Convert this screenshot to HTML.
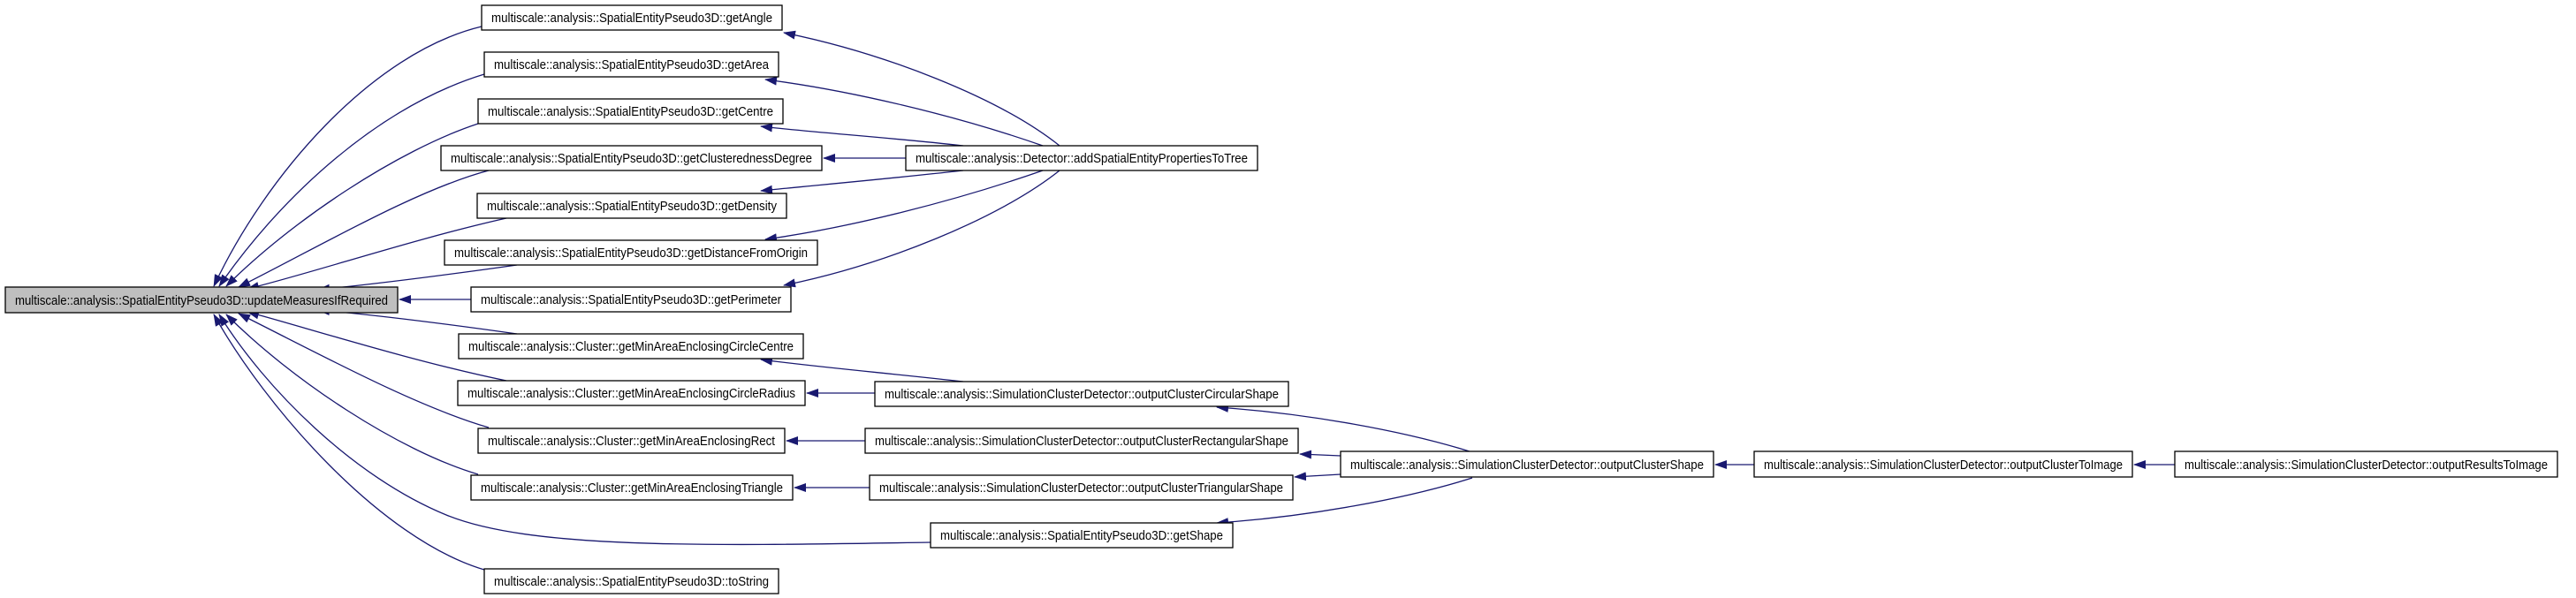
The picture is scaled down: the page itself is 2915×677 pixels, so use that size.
<!DOCTYPE html>
<html><head><meta charset="utf-8"><style>
html,body{margin:0;padding:0;background:#fff;}
svg{display:block;}
text{font-family:"Liberation Sans",Arial,sans-serif;font-size:15px;fill:#000;}
.e{fill:none;stroke:#191970;stroke-width:1.3;}
.b{fill:#fff;stroke:#000;stroke-width:1.3;}
</style></head><body>
<svg width="2915" height="677" viewBox="0 0 2915 677" xmlns="http://www.w3.org/2000/svg">
<defs>
<marker id="a" markerWidth="14" markerHeight="10" refX="13" refY="5" orient="auto" markerUnits="userSpaceOnUse">
<polygon points="0,0 14,5 0,10" fill="#191970"/>
</marker>
</defs>
<g>
<path class="e" d="M545,30 C420,60 300,200 242,324" marker-end="url(#a)"/>
<path class="e" d="M548,84 C430,120 320,220 248,324" marker-end="url(#a)"/>
<path class="e" d="M541,140 C450,170 330,250 256,324" marker-end="url(#a)"/>
<path class="e" d="M553,193 C470,215 360,280 270,325" marker-end="url(#a)"/>
<path class="e" d="M573,247 C470,270 350,310 280,327" marker-end="url(#a)"/>
<path class="e" d="M585,300 C500,312 420,322 360,328" marker-end="url(#a)"/>
<path class="e" d="M533,339 L452,339" marker-end="url(#a)"/>
<path class="e" d="M585,378 C500,366 420,356 360,351" marker-end="url(#a)"/>
<path class="e" d="M573,431 C470,410 350,372 280,353" marker-end="url(#a)"/>
<path class="e" d="M553,484 C470,460 360,400 270,355" marker-end="url(#a)"/>
<path class="e" d="M541,537 C450,510 330,430 256,356" marker-end="url(#a)"/>
<path class="e" d="M1053,614 C800,618 600,622 505,583 C400,540 300,440 248,356" marker-end="url(#a)"/>
<path class="e" d="M548,645 C430,610 300,460 242,356" marker-end="url(#a)"/>
<path class="e" d="M1199,165 C1130,110 1000,60 887,37" marker-end="url(#a)"/>
<path class="e" d="M1180,165 C1080,130 960,102 866,90" marker-end="url(#a)"/>
<path class="e" d="M1090,165 C1000,155 920,150 861,143" marker-end="url(#a)"/>
<path class="e" d="M1025,179 L932,179" marker-end="url(#a)"/>
<path class="e" d="M1090,193 C1000,203 920,210 861,216" marker-end="url(#a)"/>
<path class="e" d="M1180,193 C1080,228 960,258 866,271" marker-end="url(#a)"/>
<path class="e" d="M1199,193 C1130,248 1000,300 887,323" marker-end="url(#a)"/>
<path class="e" d="M1090,432 C1000,422 920,415 861,407" marker-end="url(#a)"/>
<path class="e" d="M990,445 L913,445" marker-end="url(#a)"/>
<path class="e" d="M979,499 L890,499" marker-end="url(#a)"/>
<path class="e" d="M984,552 L899,552" marker-end="url(#a)"/>
<path class="e" d="M1666,512 C1590,488 1480,468 1377,461" marker-end="url(#a)"/>
<path class="e" d="M1517,516 L1471,514" marker-end="url(#a)"/>
<path class="e" d="M1517,537 L1465,540" marker-end="url(#a)"/>
<path class="e" d="M1666,541 C1590,565 1480,585 1377,592" marker-end="url(#a)"/>
<path class="e" d="M1985,526 L1941,526" marker-end="url(#a)"/>
<path class="e" d="M2461,526 L2415,526" marker-end="url(#a)"/>
</g>
<rect x="6" y="325" width="444" height="29" fill="#bfbfbf" stroke="#000" stroke-width="1.3"/>
<text x="17" y="345" textLength="422" lengthAdjust="spacingAndGlyphs">multiscale::analysis::SpatialEntityPseudo3D::updateMeasuresIfRequired</text>

<rect class="b" x="545" y="6" width="340" height="28"/>
<text x="556" y="25" textLength="318" lengthAdjust="spacingAndGlyphs">multiscale::analysis::SpatialEntityPseudo3D::getAngle</text>
<rect class="b" x="548" y="59" width="333" height="28"/>
<text x="559" y="78" textLength="311" lengthAdjust="spacingAndGlyphs">multiscale::analysis::SpatialEntityPseudo3D::getArea</text>
<rect class="b" x="541" y="112" width="345" height="28"/>
<text x="552" y="131" textLength="323" lengthAdjust="spacingAndGlyphs">multiscale::analysis::SpatialEntityPseudo3D::getCentre</text>
<rect class="b" x="499" y="165" width="431" height="28"/>
<text x="510" y="184" textLength="409" lengthAdjust="spacingAndGlyphs">multiscale::analysis::SpatialEntityPseudo3D::getClusterednessDegree</text>
<rect class="b" x="540" y="219" width="350" height="28"/>
<text x="551" y="238" textLength="328" lengthAdjust="spacingAndGlyphs">multiscale::analysis::SpatialEntityPseudo3D::getDensity</text>
<rect class="b" x="503" y="272" width="422" height="28"/>
<text x="514" y="291" textLength="400" lengthAdjust="spacingAndGlyphs">multiscale::analysis::SpatialEntityPseudo3D::getDistanceFromOrigin</text>
<rect class="b" x="533" y="325" width="362" height="28"/>
<text x="544" y="344" textLength="340" lengthAdjust="spacingAndGlyphs">multiscale::analysis::SpatialEntityPseudo3D::getPerimeter</text>
<rect class="b" x="519" y="378" width="390" height="28"/>
<text x="530" y="397" textLength="368" lengthAdjust="spacingAndGlyphs">multiscale::analysis::Cluster::getMinAreaEnclosingCircleCentre</text>
<rect class="b" x="518" y="431" width="393" height="28"/>
<text x="529" y="450" textLength="371" lengthAdjust="spacingAndGlyphs">multiscale::analysis::Cluster::getMinAreaEnclosingCircleRadius</text>
<rect class="b" x="541" y="485" width="347" height="28"/>
<text x="552" y="504" textLength="325" lengthAdjust="spacingAndGlyphs">multiscale::analysis::Cluster::getMinAreaEnclosingRect</text>
<rect class="b" x="533" y="538" width="364" height="28"/>
<text x="544" y="557" textLength="342" lengthAdjust="spacingAndGlyphs">multiscale::analysis::Cluster::getMinAreaEnclosingTriangle</text>
<rect class="b" x="548" y="644" width="333" height="28"/>
<text x="559" y="663" textLength="311" lengthAdjust="spacingAndGlyphs">multiscale::analysis::SpatialEntityPseudo3D::toString</text>

<rect class="b" x="1025" y="165" width="398" height="28"/>
<text x="1036" y="184" textLength="376" lengthAdjust="spacingAndGlyphs">multiscale::analysis::Detector::addSpatialEntityPropertiesToTree</text>
<rect class="b" x="990" y="432" width="468" height="28"/>
<text x="1001" y="451" textLength="446" lengthAdjust="spacingAndGlyphs">multiscale::analysis::SimulationClusterDetector::outputClusterCircularShape</text>
<rect class="b" x="979" y="485" width="490" height="28"/>
<text x="990" y="504" textLength="468" lengthAdjust="spacingAndGlyphs">multiscale::analysis::SimulationClusterDetector::outputClusterRectangularShape</text>
<rect class="b" x="984" y="538" width="479" height="28"/>
<text x="995" y="557" textLength="457" lengthAdjust="spacingAndGlyphs">multiscale::analysis::SimulationClusterDetector::outputClusterTriangularShape</text>
<rect class="b" x="1053" y="592" width="342" height="28"/>
<text x="1064" y="611" textLength="320" lengthAdjust="spacingAndGlyphs">multiscale::analysis::SpatialEntityPseudo3D::getShape</text>
<rect class="b" x="1517" y="511" width="422" height="29"/>
<text x="1528" y="531" textLength="400" lengthAdjust="spacingAndGlyphs">multiscale::analysis::SimulationClusterDetector::outputClusterShape</text>
<rect class="b" x="1985" y="511" width="428" height="29"/>
<text x="1996" y="531" textLength="406" lengthAdjust="spacingAndGlyphs">multiscale::analysis::SimulationClusterDetector::outputClusterToImage</text>
<rect class="b" x="2461" y="511" width="433" height="29"/>
<text x="2472" y="531" textLength="411" lengthAdjust="spacingAndGlyphs">multiscale::analysis::SimulationClusterDetector::outputResultsToImage</text>
</svg>
</body></html>
